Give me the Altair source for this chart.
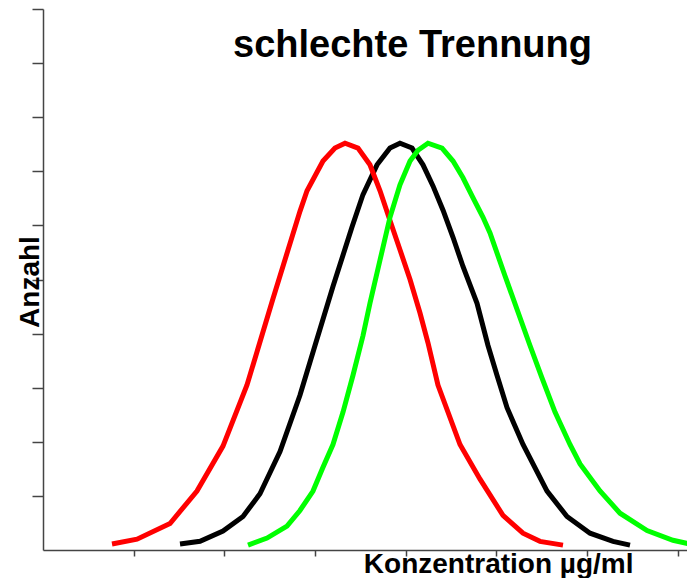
import altair as alt
import pandas as pd

# Curve values (x in tick units, y in tick units)
red_x = [0.761, 1.037, 1.401, 1.698, 1.985, 2.250, 2.537, 2.834, 2.912, 3.088, 3.220, 3.331,
         3.474, 3.606, 3.717, 3.827, 3.937, 4.048, 4.158, 4.246, 4.356, 4.599, 4.820, 5.073, 5.294,
         5.481, 5.735]
red_y = [0.11, 0.20, 0.49, 1.09, 1.92, 3.05, 4.65, 6.26, 6.64, 7.19, 7.43, 7.52,
         7.43, 7.12, 6.64, 6.09, 5.55, 5.00, 4.38, 3.83, 3.05, 1.95, 1.31, 0.64, 0.31,
         0.16, 0.09]

black_x = [1.511, 1.732, 1.985, 2.206, 2.393, 2.614, 2.834, 3.000, 3.198, 3.408, 3.529, 3.684, 3.827,
           3.937, 4.070, 4.191, 4.301, 4.412, 4.522, 4.632, 4.787, 4.908, 5.007, 5.118, 5.294, 5.559,
           5.779, 6.033, 6.287, 6.474]
black_y = [0.11, 0.16, 0.35, 0.62, 1.04, 1.82, 2.86, 3.78, 4.87, 5.97, 6.57, 7.12, 7.43,
           7.52, 7.43, 7.12, 6.73, 6.28, 5.78, 5.24, 4.56, 3.78, 3.23, 2.63, 1.95, 1.09,
           0.62, 0.31, 0.16, 0.09]

green_x = [2.261, 2.471, 2.691, 2.834, 2.978, 3.088, 3.198, 3.309, 3.419, 3.529, 3.606, 3.717, 3.827,
           3.937, 4.048, 4.136, 4.246, 4.401, 4.522, 4.632, 4.743, 4.853, 4.930, 5.095, 5.371, 5.503,
           5.647, 5.812, 5.923, 6.143, 6.364, 6.662, 6.948, 7.191]
green_y = [0.09, 0.22, 0.44, 0.73, 1.09, 1.53, 1.95, 2.55, 3.23, 3.96, 4.56, 5.36, 6.15,
           6.75, 7.19, 7.39, 7.52, 7.43, 7.19, 6.88, 6.51, 6.15, 5.86, 5.07, 3.78, 3.18,
           2.55, 1.95, 1.59, 1.09, 0.68, 0.36, 0.18, 0.09]

x_ticks = [1, 2, 3, 4, 5, 6, 7]
y_ticks = [1, 2, 3, 4, 5, 6, 7, 8, 9, 10]

chart_title = "schlechte Trennung"
x_title = "Konzentration µg/ml"
y_title = "Anzahl"

FONT = "Liberation Sans"
AXIS_COLOR = "#444444"

PLOT_W = 644
PLOT_H = 541

x_scale = alt.Scale(domain=[0, PLOT_W / 90.67], nice=False, zero=False)
y_scale = alt.Scale(domain=[0, 10], nice=False, zero=False)

x_enc = alt.X(
    "x:Q", scale=x_scale,
    axis=alt.Axis(values=x_ticks, labels=False, grid=False, tickSize=6,
                  title=x_title, titleFont=FONT, titleFontSize=28, titleFontWeight="bold",
                  titleColor="black", titleX=590, titleY=22, titleAlign="right",
                  titleBaseline="alphabetic"),
)
y_enc = alt.Y(
    "y:Q", scale=y_scale,
    axis=alt.Axis(values=y_ticks, labels=False, grid=False, tickSize=11,
                  title=y_title, titleFont=FONT, titleFontSize=28, titleFontWeight="bold",
                  titleColor="black", titleX=-5, titleY=272.5, titleAngle=270,
                  titleAlign="center", titleBaseline="alphabetic"),
)


def line_layer(xs, ys, color):
    df = pd.DataFrame({"x": xs, "y": ys, "i": list(range(len(xs)))})
    return alt.Chart(df).mark_line(color=color, strokeWidth=5, clip=True).encode(
        x=x_enc, y=y_enc, order=alt.Order("i:Q")
    )


title_layer = alt.Chart(pd.DataFrame({"t": [chart_title]})).mark_text(
    font=FONT, fontSize=38, fontWeight="bold", color="black",
    align="center", baseline="alphabetic"
).encode(text="t:N", x=alt.value(369.5), y=alt.value(48))

chart = alt.layer(
    line_layer(black_x, black_y, "#000000"),
    line_layer(red_x, red_y, "#ff0000"),
    line_layer(green_x, green_y, "#00ff00"),
    title_layer,
).properties(
    width=PLOT_W, height=PLOT_H,
    autosize=alt.AutoSizeParams(type="none"),
    padding={"left": 35, "top": 1, "right": 0, "bottom": 28},
).configure_view(stroke=None).configure_axis(
    domainColor=AXIS_COLOR, tickColor=AXIS_COLOR, domainWidth=1.5, tickWidth=1.5
)

chart.save("out.html", embed_options={"renderer": "svg", "actions": False})
